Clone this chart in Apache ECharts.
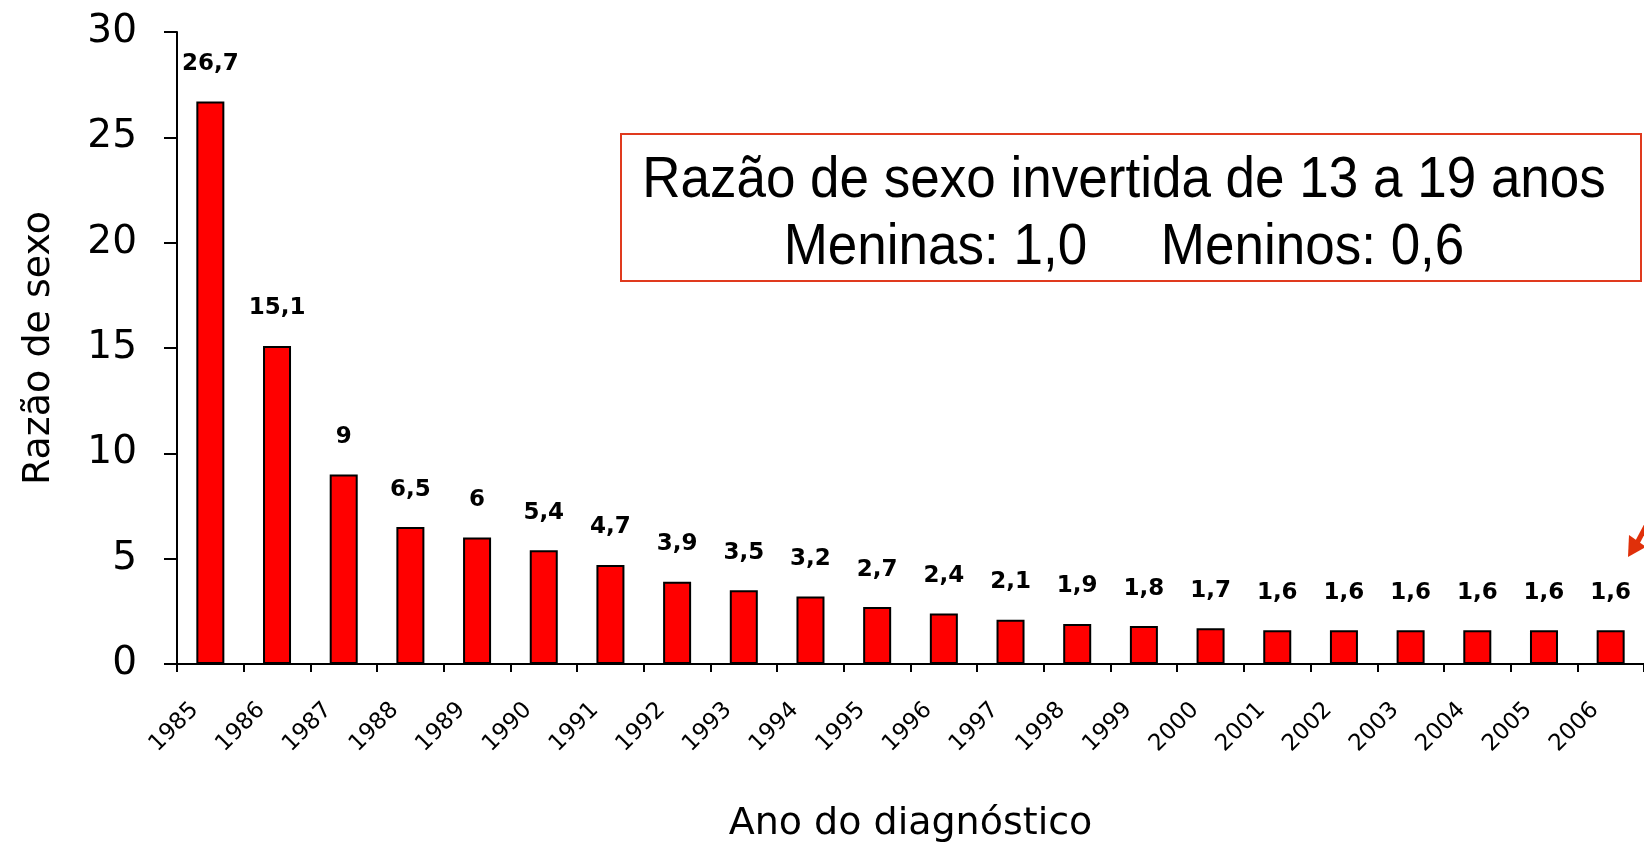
<!DOCTYPE html>
<html><head><meta charset="utf-8">
<script src="https://cdn.jsdelivr.net/npm/echarts@6/dist/echarts.min.js"></script>
<style>html,body{margin:0;padding:0;background:#fff}#c{width:1644px;height:848px}</style>
</head><body><div id="c"></div>
<script>
const categories = ['1985','1986','1987','1988','1989','1990','1991','1992','1993','1994','1995','1996','1997','1998','1999','2000','2001','2002','2003','2004','2005','2006'];
const values = [26.7,15.1,9,6.5,6,5.4,4.7,3.9,3.5,3.2,2.7,2.4,2.1,1.9,1.8,1.7,1.6,1.6,1.6,1.6,1.6,1.6];
const yTicks = [0,5,10,15,20,25,30];
const boxLines = ['Razão de sexo invertida de 13 a 19 anos', 'Meninas: 1,0     Meninos: 0,6'];

const chart = echarts.init(document.getElementById('c'), null, {renderer:'canvas'});
const font = '"DejaVu Sans", Verdana, sans-serif';
const arial = '"Liberation Sans", Arial, sans-serif';
chart.setOption({
  animation:false,
  backgroundColor:'#fff',
  grid:{left:177, top:32, width:1472, bottom:181},
  xAxis:{
    type:'category', data:categories,
    name:'Ano do diagnóstico', nameLocation:'middle', nameGap:141,
    nameTextStyle:{fontFamily:font, fontSize:38, color:'#000'},
    axisLine:{lineStyle:{color:'#000', width:2}},
    axisTick:{show:true, length:8, lineStyle:{color:'#000', width:2}},
    axisLabel:{rotate:45, fontFamily:font, fontSize:23, color:'#000', margin:27, padding:[0,22,0,0]}
  },
  yAxis:{
    type:'value', min:0, max:30, interval:5,
    name:'Razão de sexo', nameLocation:'middle', nameGap:119, nameRotate:90,
    nameTextStyle:{fontFamily:font, fontSize:38, color:'#000'},
    axisLine:{show:true, lineStyle:{color:'#000', width:2}},
    axisTick:{show:true, length:13, lineStyle:{color:'#000', width:2}},
    axisLabel:{fontFamily:font, fontSize:39, color:'#000', margin:40,
      formatter:v=> yTicks.includes(v) ? String(v) : ''},
    splitLine:{show:false}
  },
  series:[{
    type:'bar', data:values, barWidth:'42%',
    itemStyle:{color:'#ff0000', borderColor:'#000', borderWidth:2},
    label:{show:true, position:'top', distance:26, fontFamily:font, fontWeight:'bold', fontSize:23, color:'#000',
      formatter:p=>String(p.value).replace('.', ',')}
  }],
  graphic:[
    {type:'rect', shape:{x:621, y:134, width:1020, height:147}, style:{fill:'#fff', stroke:'#e03a1e', lineWidth:2}},
    {type:'text', x:1124, y:181, scaleX:0.93, style:{x:0, y:0, text:boxLines[0], fontFamily:arial, fontSize:57, fill:'#000', align:'center', verticalAlign:'middle'}},
    {type:'text', x:1124, y:248, scaleX:0.93, style:{x:0, y:0, text:boxLines[1].replace(/ /g,'\u00a0'), fontFamily:arial, fontSize:57, fill:'#000', align:'center', verticalAlign:'middle'}},
    {type:'line', shape:{x1:1665, y1:490, x2:1636, y2:545}, style:{stroke:'#e0300a', lineWidth:5}},
    {type:'polygon', shape:{points:[[1628,557],[1629,535],[1646,547]]}, style:{fill:'#e0300a'}}
  ]
});
</script></body></html>
